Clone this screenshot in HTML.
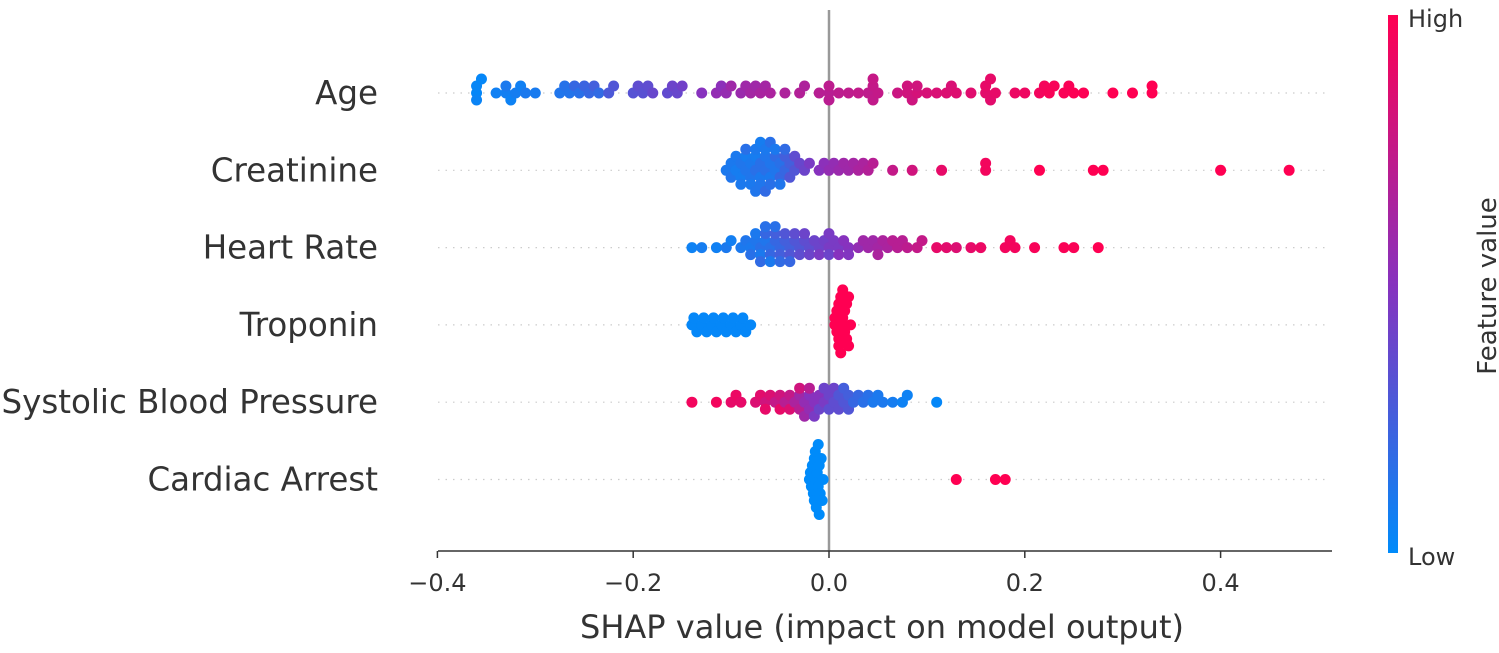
<!DOCTYPE html>
<html><head><meta charset="utf-8">
<style>
body{margin:0;background:#fff;}
svg text{font-family:"DejaVu Sans","Liberation Sans",sans-serif;fill:#333;}
</style></head>
<body>
<svg id="chart" width="1499" height="648" xmlns="http://www.w3.org/2000/svg">
<defs>
<linearGradient id="cb" x1="0" y1="1" x2="0" y2="0">
<stop offset="0" stop-color="rgb(0,139,250)"/>
<stop offset="0.5" stop-color="rgb(135,50,190)"/>
<stop offset="1" stop-color="rgb(255,0,82)"/>
</linearGradient>
</defs>
<g id="grid"></g>
<line x1="829" y1="10" x2="829" y2="551" stroke="#999" stroke-width="2.5"/>
<g id="dots"></g>
<line x1="438" y1="551" x2="1332" y2="551" stroke="#333" stroke-width="1.5"/>
<g id="ticks"></g>
<text x="882" y="638" font-size="32" text-anchor="middle">SHAP value (impact on model output)</text>
<rect x="1388" y="15" width="10" height="538" fill="url(#cb)"/>
<text x="1408" y="27" font-size="24">High</text>
<text x="1408" y="565" font-size="24">Low</text>
<text x="0" y="0" font-size="26" text-anchor="middle" transform="translate(1496,286) rotate(-90)">Feature value</text>
</svg>
<script>
const features = ["Age","Creatinine","Heart Rate","Troponin","Systolic Blood Pressure","Cardiac Arrest"];
const xTicks = [-0.4,-0.2,0.0,0.2,0.4];
const xTickLabels = ["\u22120.4","\u22120.2","0.0","0.2","0.4"];
const ageData = [[-0.36,.02],[-0.36,.03],[-0.355,.02],[-0.36,.04],[-0.34,.06],[-0.33,.07],[-0.325,.05],[-0.32,.08],[-0.315,.06],[-0.33,.1],[-0.31,.1],[-0.30,.09],[-0.275,.12],[-0.27,.14],[-0.265,.13],[-0.26,.2],[-0.255,.15],[-0.25,.22],[-0.245,.2],[-0.24,.25],[-0.235,.18],[-0.225,.28],[-0.22,.3],[-0.20,.32],[-0.195,.35],[-0.19,.33],[-0.185,.35],[-0.18,.38],[-0.165,.36],[-0.16,.4],[-0.155,.38],[-0.15,.42],[-0.13,.5],[-0.115,.55],[-0.11,.52],[-0.105,.56],[-0.10,.6],[-0.09,.58],[-0.085,.6],[-0.08,.62],[-0.075,.6],[-0.07,.64],[-0.065,.62],[-0.06,.65],[-0.045,.66],[-0.03,.68],[-0.025,.66],[-0.01,.7],[0.0,.7],[0.0,.72],[0.0,.71],[0.01,.72],[0.02,.73],[0.03,.74],[0.04,.73],[0.045,.75],[0.045,.74],[0.045,.76],[0.05,.75],[0.07,.78],[0.08,.8],[0.08,.8],[0.085,.79],[0.09,.82],[0.09,.8],[0.10,.83],[0.11,.84],[0.12,.85],[0.125,.84],[0.13,.86],[0.145,.87],[0.16,.88],[0.16,.9],[0.165,.88],[0.165,.9],[0.17,.9],[0.19,.92],[0.20,.93],[0.215,.95],[0.22,.96],[0.225,.97],[0.23,.97],[0.24,.98],[0.245,.98],[0.25,.99],[0.26,.99],[0.29,1],[0.31,1],[0.33,1],[0.33,1]];
const creatinineData = [[-0.105,.1],[-0.10,.1],[-0.10,.12],[-0.095,.08],[-0.095,.1],[-0.09,.12],[-0.09,.08],[-0.09,.1],[-0.085,.12],[-0.085,.08],[-0.085,.15],[-0.08,.1],[-0.08,.12],[-0.08,.1],[-0.075,.15],[-0.075,.08],[-0.075,.1],[-0.075,.12],[-0.07,.15],[-0.07,.1],[-0.07,.12],[-0.07,.08],[-0.065,.15],[-0.065,.12],[-0.065,.1],[-0.065,.18],[-0.06,.12],[-0.06,.1],[-0.06,.15],[-0.06,.15],[-0.055,.12],[-0.055,.18],[-0.055,.1],[-0.05,.15],[-0.05,.2],[-0.05,.12],[-0.045,.2],[-0.045,.25],[-0.045,.18],[-0.04,.25],[-0.04,.3],[-0.035,.3],[-0.035,.35],[-0.03,.38],[-0.025,.4],[-0.02,.45],[-0.01,.5],[-0.005,.52],[0.0,.55],[0.005,.55],[0.01,.58],[0.015,.6],[0.02,.6],[0.025,.62],[0.03,.65],[0.035,.65],[0.04,.68],[0.045,.7],[0.065,.75],[0.085,.8],[0.115,.9],[0.16,.95],[0.16,.95],[0.215,1],[0.27,1],[0.28,1],[0.40,1],[0.47,1]];
const heartRateData = [[-0.14,.05],[-0.13,.08],[-0.115,.06],[-0.105,.1],[-0.10,.07],[-0.09,.1],[-0.085,.12],[-0.08,.1],[-0.08,.15],[-0.075,.12],[-0.075,.1],[-0.07,.15],[-0.07,.1],[-0.07,.18],[-0.065,.12],[-0.065,.2],[-0.065,.15],[-0.06,.15],[-0.06,.2],[-0.06,.1],[-0.055,.2],[-0.055,.25],[-0.055,.15],[-0.05,.2],[-0.05,.25],[-0.05,.18],[-0.045,.25],[-0.045,.3],[-0.04,.25],[-0.04,.3],[-0.04,.2],[-0.035,.3],[-0.035,.35],[-0.03,.3],[-0.03,.35],[-0.025,.35],[-0.025,.4],[-0.02,.35],[-0.02,.4],[-0.015,.4],[-0.01,.4],[-0.01,.45],[-0.005,.42],[0,.45],[0,.4],[0,.45],[0.005,.45],[0.01,.45],[0.01,.5],[0.015,.5],[0.02,.5],[0.02,.48],[0.03,.55],[0.035,.6],[0.04,.6],[0.045,.6],[0.05,.62],[0.05,.65],[0.055,.65],[0.06,.65],[0.065,.7],[0.07,.7],[0.075,.7],[0.08,.72],[0.09,.75],[0.095,.75],[0.11,.9],[0.12,.88],[0.13,.85],[0.145,.9],[0.155,.92],[0.18,.95],[0.185,.95],[0.19,.95],[0.21,.97],[0.24,.98],[0.25,.98],[0.275,1]];
const troponinData = [[-0.14,.02],[-0.135,.02],[-0.13,.02],[-0.125,.02],[-0.12,.02],[-0.115,.02],[-0.11,.02],[-0.105,.02],[-0.10,.02],[-0.095,.02],[-0.09,.02],[-0.085,.02],[-0.08,.02],[-0.138,.02],[-0.128,.02],[-0.118,.02],[-0.108,.02],[-0.098,.02],[-0.088,.02],[0.006,1],[0.006,1],[0.008,1],[0.008,1],[0.01,1],[0.01,1],[0.01,1],[0.012,1],[0.012,1],[0.014,1],[0.014,1],[0.014,1],[0.016,1],[0.016,1],[0.018,1],[0.018,1],[0.02,1],[0.02,1],[0.022,1]];
const sbpData = [[-0.14,.95],[-0.115,.95],[-0.10,.9],[-0.095,.92],[-0.09,.9],[-0.075,.85],[-0.07,.88],[-0.065,.8],[-0.06,.85],[-0.055,.75],[-0.05,.8],[-0.045,.7],[-0.04,.75],[-0.035,.65],[-0.03,.6],[-0.03,.7],[-0.025,.55],[-0.025,.6],[-0.02,.5],[-0.02,.55],[-0.015,.5],[-0.015,.45],[-0.01,.5],[-0.01,.4],[-0.005,.45],[-0.005,.4],[0,.4],[0,.35],[0.005,.35],[0.005,.4],[0.01,.3],[0.01,.35],[0.015,.3],[0.015,.25],[0.02,.25],[0.02,.3],[0.025,.2],[0.03,.2],[0.035,.15],[0.04,.15],[0.045,.1],[0.05,.1],[0.055,.1],[0.065,.08],[0.075,.05],[0.08,.05],[0.11,.02],[-0.03,.8],[-0.05,.9],[-0.065,.9],[-0.04,.85],[-0.02,.7]];
const cardiacArrestData = [[-0.02,0],[-0.019,0],[-0.018,0],[-0.017,0],[-0.016,0],[-0.015,0],[-0.015,0],[-0.014,0],[-0.013,0],[-0.013,0],[-0.012,0],[-0.011,0],[-0.011,0],[-0.01,0],[-0.01,0],[-0.009,0],[-0.008,0],[-0.007,0],[-0.006,0],[0.13,1],[0.17,1],[0.18,1]];
const allData = [ageData,creatinineData,heartRateData,troponinData,sbpData,cardiacArrestData];

const NS="http://www.w3.org/2000/svg";
const x0=829, pxPerUnit=979, rowTop=93, rowStep=77.3;
function xScale(v){return x0+v*pxPerUnit;}
function yRow(i){return rowTop+i*rowStep;}
function color(f){
  const a=[0,139,250], m=[135,50,190], b=[255,0,82];
  let c;
  if(f<0.5){const t=f/0.5;c=a.map((v,k)=>Math.round(v+(m[k]-v)*t));}
  else{const t=(f-0.5)/0.5;c=m.map((v,k)=>Math.round(v+(b[k]-v)*t));}
  return `rgb(${c[0]},${c[1]},${c[2]})`;
}
const grid=document.getElementById('grid'), dots=document.getElementById('dots'), ticks=document.getElementById('ticks'), svg=document.getElementById('chart');
features.forEach((name,i)=>{
  const y=yRow(i);
  const gl=document.createElementNS(NS,'line');
  gl.setAttribute('x1',438);gl.setAttribute('x2',1328);gl.setAttribute('y1',y);gl.setAttribute('y2',y);
  gl.setAttribute('stroke','#ccc');gl.setAttribute('stroke-width','1.2');gl.setAttribute('stroke-dasharray','1.5,6');
  
  
  grid.appendChild(gl);
  const t=document.createElementNS(NS,'text');
  t.setAttribute('x',378);t.setAttribute('y',y+11);t.setAttribute('font-size','32.5');t.setAttribute('text-anchor','end');
  t.textContent=name;
  
  
  svg.appendChild(t);
  const pts=allData[i].slice().sort((p,q)=>p[0]-q[0]);
  const placed=[]; const d=7, minDx=6;
  const g=document.createElementNS(NS,'g');
  
  
  pts.forEach(p=>{
    const px=xScale(p[0]);
    let off=0;
    for(let k=0;k<40;k++){
      const o=(k%2===0?1:-1)*Math.ceil(k/2)*d;
      const ok=placed.every(q=>!(q[1]===o && Math.abs(q[0]-px)<minDx));
      if(ok){off=o;break;}
    }
    placed.push([px,off]);
    const c=document.createElementNS(NS,'circle');
    c.setAttribute('cx',px);c.setAttribute('cy',y+off);c.setAttribute('r',5.5);c.setAttribute('fill',color(p[1]));
    
    
    g.appendChild(c);
  });
  dots.appendChild(g);
});
xTicks.forEach((v,i)=>{
  const x=xScale(v);
  const l=document.createElementNS(NS,'line');
  l.setAttribute('x1',x);l.setAttribute('x2',x);l.setAttribute('y1',551);l.setAttribute('y2',558);l.setAttribute('stroke','#333');l.setAttribute('stroke-width','1.5');
  
  
  ticks.appendChild(l);
  const t=document.createElementNS(NS,'text');
  t.setAttribute('x',x);t.setAttribute('y',591);t.setAttribute('font-size','24');t.setAttribute('text-anchor','middle');
  t.textContent=xTickLabels[i];
  
  
  ticks.appendChild(t);
});
</script>
</body></html>
